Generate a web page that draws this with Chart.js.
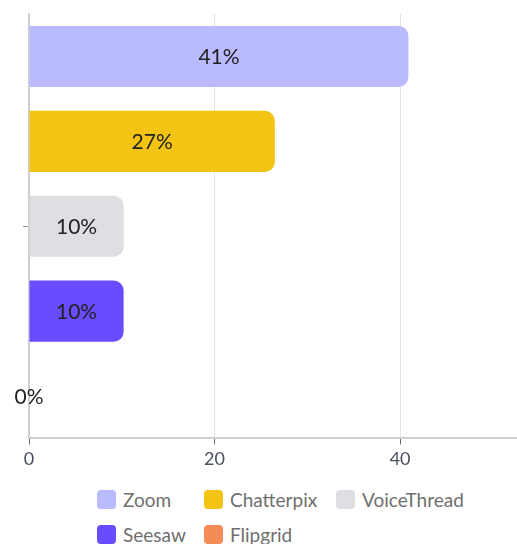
<!DOCTYPE html>
<html>
<head>
<meta charset="utf-8">
<script src="https://cdn.jsdelivr.net/npm/chart.js@4/dist/chart.umd.min.js"></script>
<style>
  html, body { margin: 0; padding: 0; background: #fff; }
  body { position: relative; width: 517px; height: 544px; overflow: hidden; }
  #wrap { width: 517px; height: 475px; }
  #legenda {
    position: absolute; left: 97px; top: 489px;
    display: grid; grid-template-columns: 107px 132px auto; row-gap: 15px;
    font-family: Lato, sans-serif; font-size: 19px; color: #6f6f6f;
  }
  .item { display: flex; align-items: center; height: 20px; }
  .caixa { width: 19px; height: 19px; border-radius: 4px; margin-right: 7px; }
</style>
</head>
<body>
<div id="wrap"><canvas id="grafico"></canvas></div>
<div id="legenda"></div>
<script>
const categorias = ["Zoom", "Chatterpix", "VoiceThread", "Seesaw", "Flipgrid"];
const valores = [40.9, 26.5, 10.2, 10.2, 0];
const rotulos = ["41%", "27%", "10%", "10%", "0%"];
const cores = ["#babaff", "#f4c414", "#dedee3", "#6a4bff", "#f58c57"];
const ticksX = [0, 20, 40];

const rotulosBarras = {
  id: "rotulosBarras",
  afterDatasetsDraw(chart) {
    const ctx = chart.ctx;
    const meta = chart.getDatasetMeta(0);
    ctx.save();
    ctx.font = "21px Lato";
    ctx.fillStyle = "#222";
    ctx.textAlign = "center";
    ctx.textBaseline = "middle";
    meta.data.forEach((barra, i) => {
      const x = (barra.x + barra.base) / 2;
      ctx.fillText(rotulos[i], x, barra.y + 1);
    });
    ctx.restore();
  }
};

new Chart(document.getElementById("grafico"), {
  type: "bar",
  data: {
    labels: categorias,
    datasets: [
      {
        data: valores,
        backgroundColor: cores,
        borderRadius: 10,
        borderSkipped: "start"
      }
    ]
  },
  options: {
    indexAxis: "y",
    responsive: true,
    maintainAspectRatio: false,
    animation: false,
    layout: { padding: { top: 14, left: 23, right: 0, bottom: 1 } },
    scales: {
      x: {
        min: 0,
        max: 52.6,
        afterBuildTicks: axis => { axis.ticks = ticksX.map(v => ({ value: v })); },
        grid: { color: "#e4e4e4", tickLength: 6, tickColor: "#666" },
        border: { color: "#cfcfcf", width: 2 },
        ticks: { font: { family: "Lato", size: 18 }, color: "#4a5060", padding: 4 }
      },
      y: {
        grid: {
          offset: false,
          drawOnChartArea: false,
          tickLength: 6,
          tickColor: ctx => ctx.index === 2 ? "#999" : "rgba(0,0,0,0)"
        },
        border: { color: "#cfcfcf", width: 2 },
        ticks: { display: false }
      }
    },
    plugins: {
      legend: { display: false },
      tooltip: { enabled: false }
    }
  },
  plugins: [rotulosBarras]
});

function montarLegenda() {
  const div = document.getElementById("legenda");
  div.innerHTML = categorias.map((nome, i) => `
    <div class="item"><span class="caixa" style="background:${cores[i]}"></span>${nome}</div>
  `).join("");
}

montarLegenda();
</script>
</body>
</html>
